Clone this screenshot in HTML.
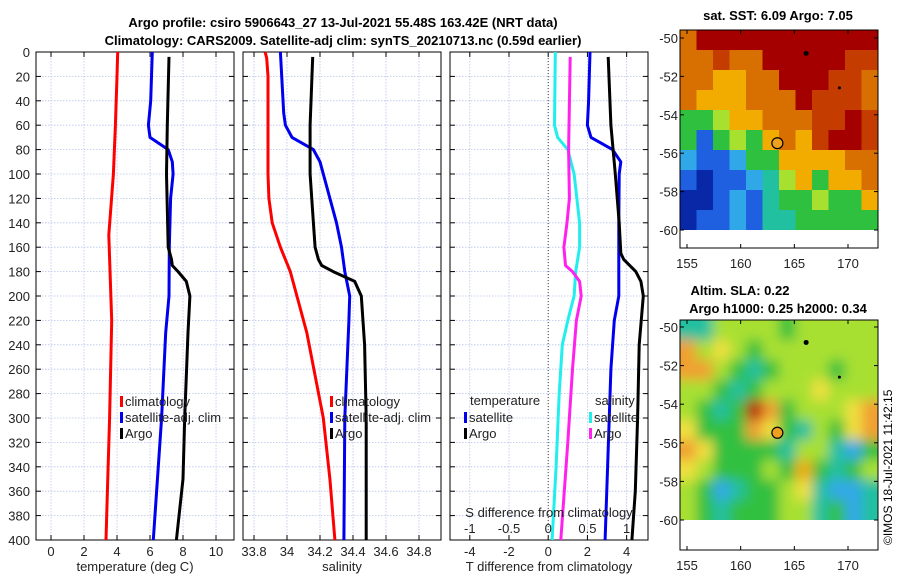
<!DOCTYPE html>
<html><head><meta charset="utf-8">
<style>
body{margin:0;background:#fff;}
svg{display:block;font-family:"Liberation Sans","DejaVu Sans",sans-serif;}
</style></head>
<body>
<svg id="chart" width="900" height="580" viewBox="0 0 900 580" xmlns="http://www.w3.org/2000/svg">
<text x="343" y="27" text-anchor="middle" font-size="13" font-weight="bold">Argo profile: csiro 5906643_27 13-Jul-2021 55.48S 163.42E (NRT data)</text>
<text x="343" y="45" text-anchor="middle" font-size="13" font-weight="bold">Climatology: CARS2009. Satellite-adj clim: synTS_20210713.nc (0.59d earlier)</text>
<text x="778" y="20" text-anchor="middle" font-size="13" font-weight="bold">sat. SST: 6.09 Argo: 7.05</text>
<text x="740" y="295" text-anchor="middle" font-size="13" font-weight="bold">Altim. SLA: 0.22</text>
<text x="778" y="313" text-anchor="middle" font-size="13" font-weight="bold">Argo h1000: 0.25 h2000: 0.34</text>
<text transform="translate(892,545) rotate(-90)" font-size="12">©IMOS 18-Jul-2021 11:42:15</text>
<g id="layer"></g>
</svg>
<script>
// ---- data (depth in m) ----
const depthTicks=[0,20,40,60,80,100,120,140,160,180,200,220,240,260,280,300,320,340,360,380,400];
const tempTicks=[0,2,4,6,8,10];
const salTicks=[33.8,34,34.2,34.4,34.6,34.8];
const tdiffTicks=[-4,-2,0,2,4];
const sdiffTicks=[-1,-0.5,0,0.5,1];
const sdiffTickLabels=["-1","-0.5","0","0.5","1"];

const tClimDepth=[0,20,60,100,150,220,300,360,400];
const tClimVal=[4.04,4.0,3.9,3.78,3.5,3.68,3.55,3.42,3.33];
const tSatDepth=[0,40,60,70,80,90,100,120,160,200,230,300,400];
const tSatVal=[6.14,6.04,5.9,6.0,7.1,7.35,7.4,7.25,7.17,7.15,6.95,6.7,6.2];
const tArgoDepth=[4,60,100,160,170,175,180,188,200,230,300,350,400];
const tArgoVal=[7.15,7.05,7.0,7.1,7.3,7.35,7.7,8.2,8.42,8.3,8.1,8.0,7.6];

const sClimDepth=[0,5,20,100,120,140,160,180,200,230,300,350,400];
const sClimVal=[33.867,33.877,33.885,33.885,33.89,33.91,33.96,34.02,34.06,34.12,34.22,34.26,34.29];
const sSatDepth=[0,50,60,70,80,90,120,140,160,180,200,220,300,400];
const sSatVal=[33.96,33.98,33.99,34.03,34.16,34.2,34.26,34.3,34.33,34.35,34.38,34.375,34.35,34.345];
const sArgoDepth=[4,60,100,140,160,170,175,180,188,200,240,300,400];
const sArgoVal=[34.156,34.14,34.14,34.16,34.17,34.19,34.21,34.28,34.41,34.45,34.47,34.48,34.48];

const dSSatDepth=[0,60,70,80,100,140,160,180,200,220,240,280,340,400];
const dSSatVal=[0.09,0.08,0.12,0.25,0.33,0.4,0.4,0.35,0.33,0.25,0.18,0.14,0.1,0.05];
const dSArgoDepth=[4,80,120,140,160,175,180,188,200,220,260,320,400];
const dSArgoVal=[0.28,0.26,0.27,0.24,0.2,0.22,0.31,0.4,0.42,0.36,0.31,0.25,0.16];
const dTSatDepth=[0,40,60,70,80,90,100,140,200,220,260,340,400];
const dTSatVal=[2.13,2.06,2.0,2.18,3.28,3.7,3.62,3.6,3.6,3.37,3.2,3.03,2.9];
const dTArgoDepth=[4,60,100,140,165,170,180,188,200,240,300,360,400];
const dTArgoVal=[3.06,3.2,3.42,3.62,3.7,3.85,4.47,4.73,4.85,4.64,4.56,4.44,4.27];

const mapLatTicks=[-50,-52,-54,-56,-58,-60];
const mapLonTicks=[155,160,165,170];
const argoLon=163.42, argoLat=-55.48;

const NS="http://www.w3.org/2000/svg";
const layer=document.getElementById('layer');
function el(tag,attrs,parent){const e=document.createElementNS(NS,tag);for(const k in attrs)e.setAttribute(k,attrs[k]);(parent||layer).appendChild(e);return e;}

const Y0=52,Y1=540;
function yD(d){return Y0+(d/400)*(Y1-Y0);}

function panel(name,x0,x1,dmin,dmax,xticks,xlabels,showY){
  const g=el('g',{});
  
  
  const xs=v=>x0+(v-dmin)/(dmax-dmin)*(x1-x0);
  depthTicks.forEach(d=>{
    const l=el('line',{x1:x0,x2:x1,y1:yD(d),y2:yD(d),stroke:'#b8c4ec','stroke-width':0.8,'stroke-dasharray':'1.5,1.5'},g);
    
    
    el('line',{x1:x0,x2:x0+5,y1:yD(d),y2:yD(d),stroke:'#000'},g);
    el('line',{x1:x1-5,x2:x1,y1:yD(d),y2:yD(d),stroke:'#000'},g);
    if(showY){const t=el('text',{x:x0-6,y:yD(d)+5,'text-anchor':'end','font-size':13,fill:'#222'},g);t.textContent=d;
      
      }
  });
  xticks.forEach((v,i)=>{
    const l=el('line',{x1:xs(v),x2:xs(v),y1:Y0,y2:Y1,stroke:'#b8c4ec','stroke-width':0.8,'stroke-dasharray':'1.5,1.5'},g);
    
    
    el('line',{x1:xs(v),x2:xs(v),y1:Y1,y2:Y1-5,stroke:'#000'},g);
    el('line',{x1:xs(v),x2:xs(v),y1:Y0,y2:Y0+5,stroke:'#000'},g);
    const t=el('text',{x:xs(v),y:Y1+16,'text-anchor':'middle','font-size':13,fill:'#222'},g);t.textContent=xlabels[i];
    
    
  });
  const r=el('rect',{x:x0,y:Y0,width:x1-x0,height:Y1-Y0,fill:'none',stroke:'#000','stroke-width':1},g);
  
  
  return {g,xs};
}
function line(p,depths,vals,color,name,xs){
  const pts=depths.map((d,i)=>(xs||p.xs)(vals[i]).toFixed(1)+','+yD(d).toFixed(1)).join(' ');
  const pl=el('polyline',{points:pts,fill:'none',stroke:color,'stroke-width':3,'stroke-linejoin':'round'},p.g);
  
  
}
function txt(p,x,y,s,opts,name){const t=el('text',Object.assign({x:x,y:y,'font-size':13,fill:'#222'},opts||{}),p.g);t.textContent=s;
  
  return t;}
function legendItem(p,x,y,color,label,name){
  const r=el('rect',{x:x,y:y-10,width:3,height:11,fill:color},p.g);
  
  
  txt(p,x+5,y,label,{},name);
}

const p1=panel('temperature-panel',36,234,-0.91,11.09,tempTicks,tempTicks.map(String),true);
line(p1,tClimDepth,tClimVal,'#ff0000','temp-climatology-line');
line(p1,tSatDepth,tSatVal,'#0000ee','temp-satellite-line');
line(p1,tArgoDepth,tArgoVal,'#000','temp-argo-line');
txt(p1,135,571,'temperature (deg C)',{'text-anchor':'middle'},'x-axis-title-temperature');
legendItem(p1,120,406,'#ff0000','climatology','legend-climatology');
legendItem(p1,120,422,'#0000ee','satellite-adj. clim','legend-satellite');
legendItem(p1,120,438,'#000','Argo','legend-argo');

const p2=panel('salinity-panel',243,441,33.7333,34.9333,salTicks,["33.8","34","34.2","34.4","34.6","34.8"],false);
line(p2,sClimDepth,sClimVal,'#ff0000','sal-climatology-line');
line(p2,sSatDepth,sSatVal,'#0000ee','sal-satellite-line');
line(p2,sArgoDepth,sArgoVal,'#000','sal-argo-line');
txt(p2,342,571,'salinity',{'text-anchor':'middle'},'x-axis-title-salinity');
legendItem(p2,330,406,'#ff0000','climatology','legend-climatology-2');
legendItem(p2,330,422,'#0000ee','satellite-adj. clim','legend-satellite-2');
legendItem(p2,330,438,'#000','Argo','legend-argo-2');

const p3=panel('difference-panel',450,648,-5.01,5.09,tdiffTicks,tdiffTicks.map(String),false);
const sxs=v=>p3.xs(v*4);
const z=el('line',{x1:p3.xs(0),x2:p3.xs(0),y1:Y0,y2:Y1,stroke:'#444','stroke-width':1,'stroke-dasharray':'1,2'},p3.g);


line(p3,dSSatDepth,dSSatVal,'#22eeee','sdiff-satellite-line',sxs);
line(p3,dSArgoDepth,dSArgoVal,'#ff22ee','sdiff-argo-line',sxs);
line(p3,dTSatDepth,dTSatVal,'#0000ee','tdiff-satellite-line');
line(p3,dTArgoDepth,dTArgoVal,'#000','tdiff-argo-line');
sdiffTicks.forEach((v,i)=>{txt(p3,sxs(v),533,sdiffTickLabels[i],{'text-anchor':'middle'},'s-diff-tick-label');});
txt(p3,549,517,'S difference from climatology',{'text-anchor':'middle'},'s-axis-title');
txt(p3,549,571,'T difference from climatology',{'text-anchor':'middle'},'t-axis-title');
txt(p3,470,405,'temperature',{},'legend-temperature-header');
legendItem(p3,464,422,'#0000ee','satellite','legend-t-satellite');
legendItem(p3,464,438,'#000','Argo','legend-t-argo');
txt(p3,595,405,'salinity',{},'legend-salinity-header');
legendItem(p3,589,422,'#22eeee','satellite','legend-s-satellite');
legendItem(p3,589,438,'#ff22ee','Argo','legend-s-argo');

// Maps
const pal={R:'#a40000',r:'#c43c00',o:'#d77000',y:'#f2ac00',l:'#a8e030',g:'#30c040',t:'#20c0a0',c:'#30a8e8',b:'#1e60e0',d:'#0828a8',Y:'#f0e040',O:'#f0a030',X:'#b81800'};
const sstGrid=["oRRRRRRRRRRR","oorooRRRRRrr","ooyyooRRRrro","oyyyoooRrrro","gglyyooorrRr","gbglgyoyrRRr","cbbcggyyyyoo","bdbbctlygyyo","ddbcbtgglggy","dbbcbttggggg"];
const slaGrid=["ttllllglllll","OlYlglllllll","OOlgtglllgll","llgtglllYlll","lgtgXOglllYO","YgggOYgtlgYO","OYggggtlltcg","Ylggglgygtgl","lgctgglYtcct","lgtggglltgct"];
function map(name,x0,x1,ytop,ybot,grid,blur,lat50y,lat60y,id){
  const g=el('g',{});
  
  
  const lonX=v=>x0+7+(v-155)*(161/15);
  const latY=v=>lat50y+(-50-v)*(lat60y-lat50y)/10;
  const gx0=x0, gx1=x1, gy0=ytop, gy1=latY(-60);
  const cp=el('clipPath',{id:'clip'+id},defs);
  el('rect',{x:gx0,y:gy0,width:gx1-gx0,height:gy1-gy0},cp);
  const rows=grid.length, cols=grid[0].length;
  const outer=el('g',{'clip-path':'url(#clip'+id+')'},g);
  const cg=el('g',blur?{filter:'url(#blur)'}:{},outer);
  const pad=blur?12:0;
  for(let i=0;i<rows;i++)for(let j=0;j<cols;j++){
    const c=pal[grid[i][j]]||'#30c040';
    let x=gx0+j*(gx1-gx0)/cols, y=gy0+i*(gy1-gy0)/rows, w=(gx1-gx0)/cols+0.6, h=(gy1-gy0)/rows+0.6;
    if(j==0){x-=pad;w+=pad;} if(j==cols-1){w+=pad;} if(i==0){y-=pad;h+=pad;} if(i==rows-1){h+=pad;}
    el('rect',{x:x,y:y,width:w,height:h,fill:c},cg);
  }
  el('rect',{x:x0,y:gy1,width:x1-x0,height:ybot-gy1,fill:'#fff'},g);
  el('rect',{x:x0,y:ytop,width:x1-x0,height:ybot-ytop,fill:'none',stroke:'#000'},g);
  mapLatTicks.forEach(v=>{
    el('line',{x1:x0,x2:x0+4,y1:latY(v),y2:latY(v),stroke:'#000'},g);
    el('line',{x1:x1-4,x2:x1,y1:latY(v),y2:latY(v),stroke:'#000'},g);
    const t=el('text',{x:x0-2,y:latY(v)+5,'text-anchor':'end','font-size':13,fill:'#222'},g);t.textContent=v;
    
    
  });
  mapLonTicks.forEach(v=>{
    el('line',{x1:lonX(v),x2:lonX(v),y1:ybot,y2:ybot-4,stroke:'#000'},g);
    el('line',{x1:lonX(v),x2:lonX(v),y1:ytop,y2:ytop+4,stroke:'#000'},g);
    const t=el('text',{x:lonX(v),y:ybot+20,'text-anchor':'middle','font-size':13,fill:'#222'},g);t.textContent=v;
    
    
  });
  el('circle',{cx:lonX(166.1),cy:latY(-50.8),r:2.5,fill:'#000'},g);
  el('circle',{cx:lonX(169.2),cy:latY(-52.6),r:1.5,fill:'#000'},g);
  const m=el('circle',{cx:lonX(argoLon),cy:latY(argoLat),r:5.5,fill:'#f0a020',stroke:'#000','stroke-width':1.2},g);
  
  
}
const defs=el('defs',{});
const f=el('filter',{id:'blur',x:'-10%',y:'-10%',width:'120%',height:'120%'},defs);
el('feGaussianBlur',{stdDeviation:6},f);
map('sst-map',680,878,30,248,sstGrid,false,38,230,1);
map('sla-map',680,878,320,550,slaGrid,true,327,520,2);
</script>
</body></html>
